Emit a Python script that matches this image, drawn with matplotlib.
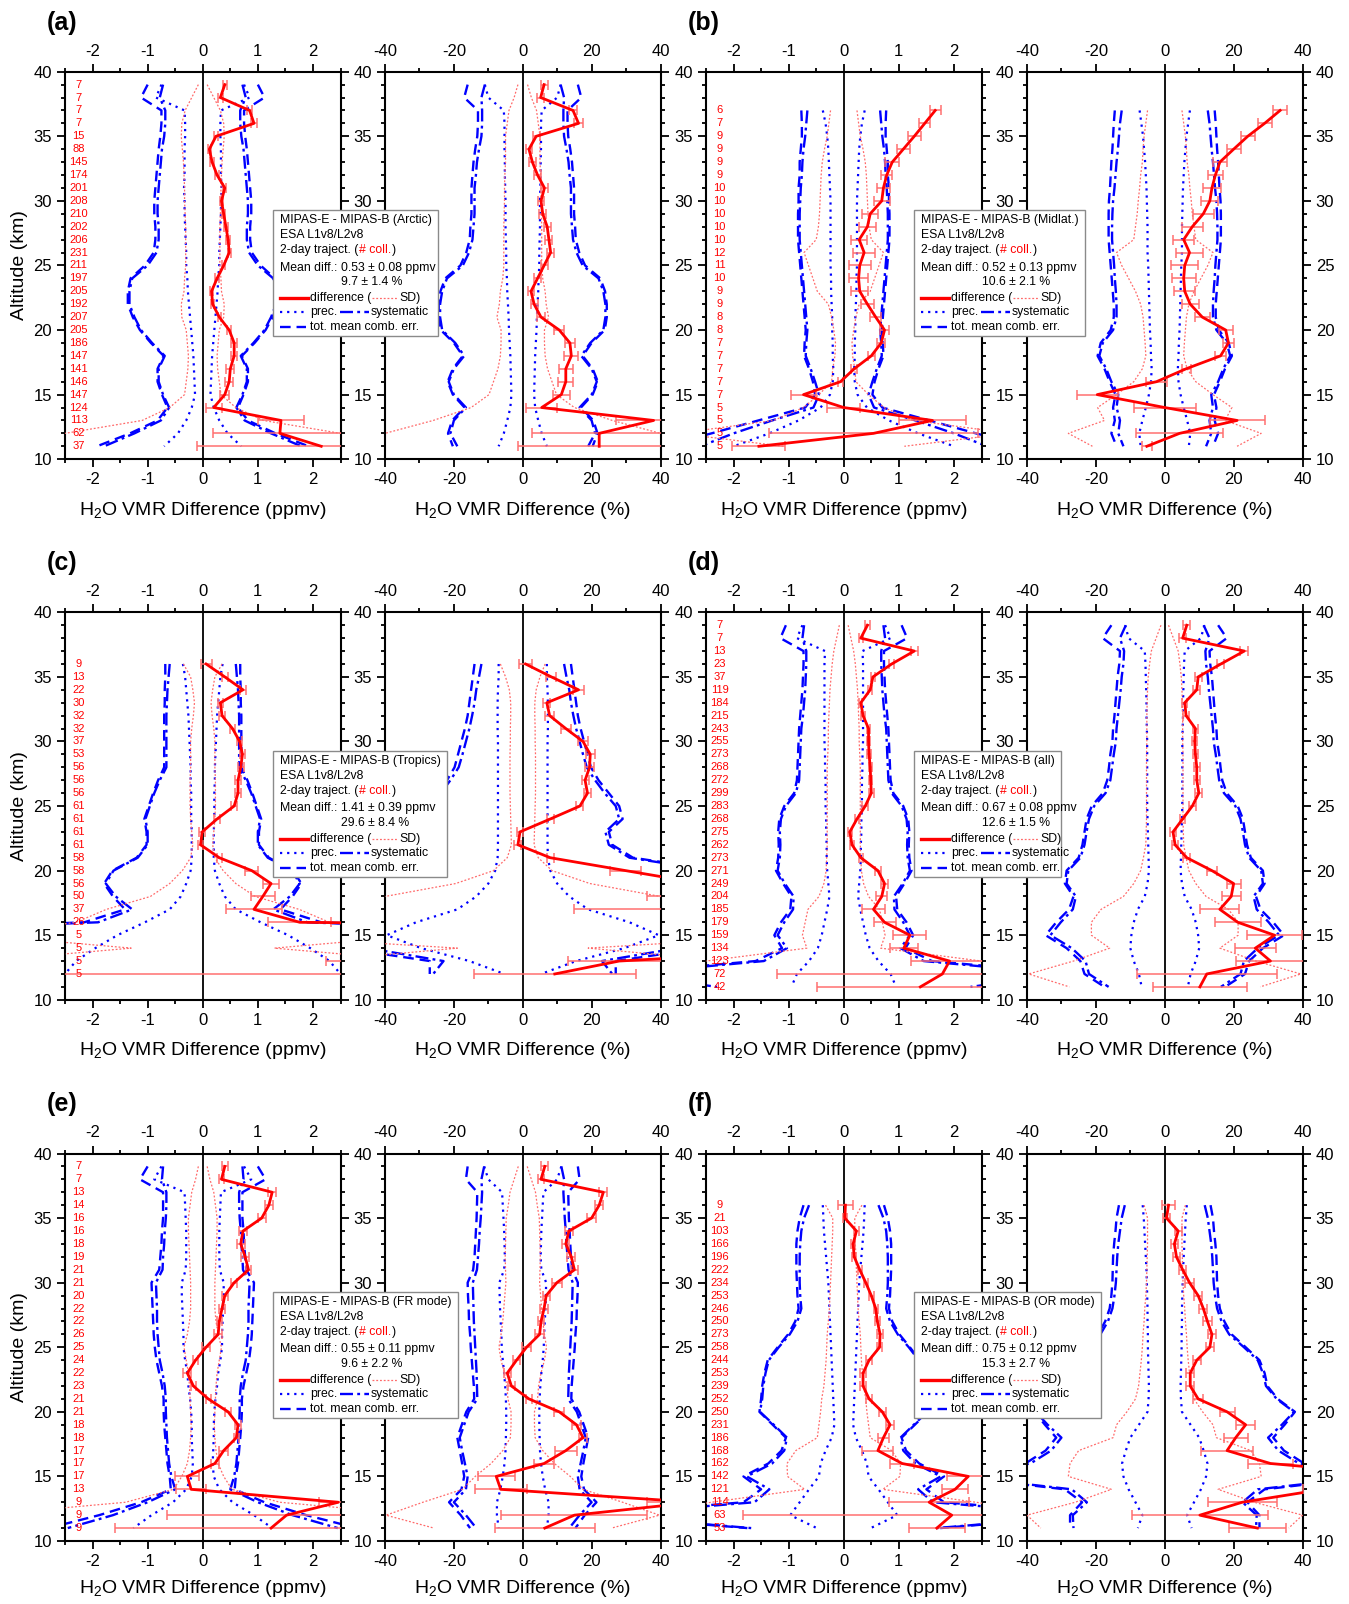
import numpy as np
import matplotlib
matplotlib.use("Agg")
import matplotlib.pyplot as plt
from matplotlib.patches import Rectangle
from matplotlib.lines import Line2D
from matplotlib.ticker import MultipleLocator, FuncFormatter

plt.rcParams['font.family'] = ['Liberation Sans', 'DejaVu Sans']
plt.rcParams['mathtext.fontset'] = 'custom'
plt.rcParams['mathtext.rm'] = 'Liberation Sans'
plt.rcParams['mathtext.it'] = 'Liberation Sans:italic'
plt.rcParams['axes.unicode_minus'] = False

# altitude labels of the % panels that are not hidden by the legend box
pct_alt_labels = [10, 15, 30, 35, 40]

# ---------------- (a) Arctic ----------------
a_alt = np.arange(39, 10, -1)
a_n = [7, 7, 7, 7, 15, 88, 145, 174, 201, 208, 210, 202, 206, 231, 211, 197, 205, 192, 207, 205, 186, 147, 141, 146, 147, 124, 113, 62, 37]
a_diff_ppmv = [0.40, 0.32, 0.85, 0.93, 0.24, 0.12, 0.17, 0.26, 0.40, 0.34, 0.38, 0.42, 0.46, 0.48, 0.38, 0.26, 0.16, 0.18, 0.30, 0.48, 0.57, 0.57, 0.50, 0.48, 0.40, 0.20, 1.42, 1.40, 2.15]
a_err_ppmv = [0.04, 0.04, 0.05, 0.05, 0.04, 0.03, 0.03, 0.03, 0.03, 0.03, 0.03, 0.03, 0.03, 0.03, 0.03, 0.03, 0.03, 0.03, 0.03, 0.04, 0.05, 0.06, 0.07, 0.07, 0.08, 0.15, 0.41, 1.22, 2.25]
a_sd_ppmv = [0.08, 0.2, 0.32, 0.38, 0.39, 0.37, 0.35, 0.34, 0.33, 0.33, 0.32, 0.31, 0.31, 0.31, 0.31, 0.33, 0.34, 0.39, 0.38, 0.3, 0.28, 0.26, 0.27, 0.3, 0.33, 0.6, 1.1, 2.5, 4.0]
a_prec_ppmv = [0.75, 0.85, 0.33, 0.32, 0.32, 0.33, 0.33, 0.33, 0.34, 0.33, 0.33, 0.32, 0.31, 0.3, 0.3, 0.28, 0.27, 0.25, 0.23, 0.21, 0.19, 0.17, 0.16, 0.15, 0.14, 0.2, 0.3, 0.45, 0.7]
a_sys_ppmv = [0.72, 0.78, 0.68, 0.68, 0.7, 0.74, 0.76, 0.78, 0.8, 0.82, 0.82, 0.8, 0.8, 0.84, 1.0, 1.28, 1.33, 1.33, 1.24, 1.12, 0.92, 0.69, 0.8, 0.8, 0.72, 0.61, 0.76, 1.24, 1.79]
a_tot_ppmv = [1.0, 1.12, 0.75, 0.75, 0.77, 0.8, 0.82, 0.84, 0.86, 0.88, 0.88, 0.86, 0.86, 0.89, 1.05, 1.31, 1.36, 1.36, 1.27, 1.14, 0.94, 0.71, 0.82, 0.82, 0.74, 0.64, 0.82, 1.32, 1.92]
a_diff_pct = [6.2, 5.2, 14.6, 16.2, 3.9, 1.8, 2.8, 4.3, 6.3, 5.3, 5.8, 7.1, 7.6, 8.1, 6.2, 4.3, 2.4, 3.3, 5.3, 10.6, 13.7, 14.1, 12.5, 12.5, 11.2, 5.5, 38, 22.2, 22.2]
a_err_pct = [1, 1, 1.2, 1.3, 1, 1, 1, 1, 1, 1, 1, 1, 1, 1, 1, 1, 1, 1, 1.2, 1.5, 1.5, 2, 2, 2.2, 2.5, 4.5, 11, 19.5, 23.5]
a_sd_pct = [1.4, 2.5, 4, 4.5, 5, 5, 5, 5.2, 5.3, 5.3, 5.4, 5.5, 5.5, 5.5, 5.5, 5.8, 6.5, 6.8, 7.5, 6.3, 6.3, 6.5, 7.2, 8.5, 9.8, 15, 26, 40, 55]
a_prec_pct = [11, 10, 5.5, 5.3, 5.3, 5.3, 5.2, 5.2, 5.1, 5, 5, 5, 4.9, 4.8, 4.8, 4.6, 4.5, 4.3, 4.1, 4, 3.8, 3.6, 3.5, 3.4, 3.3, 3.6, 4.5, 5.5, 7]
a_sys_pct = [11, 12, 11.8, 11.8, 12, 12.7, 13.3, 13.6, 14, 14, 14, 14.3, 14.6, 15.6, 17.4, 22, 23.4, 24, 24, 23.4, 19.6, 17, 20, 21.5, 20, 16.5, 20, 21, 19]
a_tot_pct = [16, 17, 13, 13, 13.2, 13.8, 14.3, 14.6, 14.9, 14.9, 14.9, 15.2, 15.4, 16.4, 18.1, 22.5, 23.9, 24.4, 24.4, 23.8, 20, 17.4, 20.3, 21.8, 20.3, 16.9, 20.5, 21.7, 20.3]

# ---------------- (b) Midlat. ----------------
b_alt = np.arange(37, 10, -1)
b_n = [6, 7, 9, 9, 9, 9, 10, 10, 10, 10, 10, 12, 11, 10, 9, 9, 8, 8, 7, 7, 7, 7, 7, 5, 5, 5, 5]
b_diff_ppmv = [1.66, 1.47, 1.28, 1.08, 0.88, 0.78, 0.72, 0.69, 0.48, 0.43, 0.28, 0.37, 0.29, 0.27, 0.29, 0.43, 0.58, 0.74, 0.68, 0.5, 0.19, -0.06, -0.73, 0.0, 1.61, 0.54, -1.54]
b_err_ppmv = [0.1, 0.1, 0.12, 0.12, 0.13, 0.1, 0.12, 0.15, 0.15, 0.15, 0.15, 0.2, 0.2, 0.17, 0.15, 0.12, 0.1, 0.08, 0.07, 0.06, 0.05, 0.05, 0.22, 0.3, 0.6, 1.89, 0.48]
b_sd_ppmv = [0.24, 0.27, 0.3, 0.35, 0.39, 0.41, 0.42, 0.43, 0.44, 0.46, 0.5, 0.72, 0.64, 0.56, 0.48, 0.28, 0.22, 0.18, 0.15, 0.16, 0.2, 0.22, 0.45, 0.73, 1.27, 3.0, 1.1]
b_prec_ppmv = [0.38, 0.33, 0.3, 0.28, 0.27, 0.26, 0.25, 0.24, 0.24, 0.24, 0.24, 0.24, 0.24, 0.23, 0.23, 0.22, 0.21, 0.21, 0.2, 0.2, 0.19, 0.2, 0.25, 0.42, 0.82, 1.35, 2.0]
b_sys_ppmv = [0.66, 0.68, 0.7, 0.73, 0.75, 0.76, 0.78, 0.79, 0.8, 0.8, 0.8, 0.78, 0.76, 0.74, 0.72, 0.7, 0.68, 0.66, 0.68, 0.69, 0.6, 0.52, 0.45, 0.55, 1.3, 2.0, 2.6]
b_tot_ppmv = [0.77, 0.76, 0.76, 0.78, 0.8, 0.8, 0.82, 0.82, 0.83, 0.83, 0.83, 0.81, 0.79, 0.77, 0.75, 0.73, 0.71, 0.69, 0.71, 0.72, 0.63, 0.56, 0.52, 0.7, 1.55, 2.4, 3.3]
b_diff_pct = [33.5, 29, 24.1, 20, 16, 14.7, 13.7, 13.1, 11.2, 8, 5.5, 7.2, 5.8, 5.5, 5.8, 7.4, 10.9, 17.7, 18.5, 16.2, 6.2, -2.4, -19.6, 0, 21, 4.3, -5.2]
b_err_pct = [2, 2, 2, 2, 2, 2.2, 2.5, 2.5, 3, 3, 3, 4, 4, 3.5, 3, 2.5, 2.2, 2, 1.5, 1.5, 1.3, 3, 6, 9, 8, 12.7, 1.5]
b_sd_pct = [5, 5.5, 6, 6.3, 6.5, 7, 7.3, 7.7, 8, 8.5, 9, 14, 12.5, 10.5, 8.5, 7, 6.3, 6, 5.7, 5.5, 6.5, 9, 14, 19.5, 17.5, 28, 21]
b_prec_pct = [7.3, 6.8, 6.3, 6, 5.7, 5.5, 5.3, 5.2, 5.1, 5, 5, 5, 4.8, 4.7, 4.6, 4.5, 4.4, 4.3, 4.1, 4, 3.8, 4, 4.6, 5.5, 6.5, 7.4, 7]
b_sys_pct = [12.5, 13, 13.3, 13.6, 14, 14.3, 14.6, 15, 15.2, 15.3, 15.3, 15, 14.7, 14.5, 14.2, 14, 14, 15, 18, 19, 17, 15.5, 13.5, 14, 13, 13.5, 12]
b_tot_pct = [14.5, 14.8, 15, 15.2, 15.5, 15.7, 15.9, 16.2, 16.3, 16.3, 16.3, 16, 15.7, 15.4, 15.1, 14.8, 14.8, 15.7, 18.6, 19.5, 17.5, 16, 14.3, 15, 14.5, 15.5, 14]

# ---------------- (c) Tropics ----------------
c_alt = np.arange(36, 11, -1)
c_n = [9, 13, 22, 30, 32, 32, 37, 53, 56, 56, 56, 61, 61, 61, 61, 58, 58, 56, 50, 37, 26, 5, 5, 5, 5]
c_diff_ppmv = [0.06, 0.4, 0.73, 0.32, 0.35, 0.54, 0.67, 0.72, 0.69, 0.64, 0.64, 0.57, 0.26, -0.01, -0.04, 0.3, 0.89, 1.24, 1.09, 0.93, 1.76, 25, 30, 5, 6]
c_err_ppmv = [0.1, 0.05, 0.05, 0.05, 0.05, 0.05, 0.05, 0.05, 0.05, 0.05, 0.05, 0.05, 0.05, 0.05, 0.05, 0.05, 0.12, 0.14, 0.22, 0.5, 0.57, 1, 1, 2.77, 9]
c_sd_ppmv = [0.35, 0.22, 0.18, 0.15, 0.17, 0.2, 0.22, 0.22, 0.22, 0.23, 0.23, 0.23, 0.22, 0.2, 0.18, 0.22, 0.37, 0.6, 0.95, 1.75, 2.3, 4, 1.3, 4, 4]
c_prec_ppmv = [0.36, 0.32, 0.3, 0.28, 0.26, 0.25, 0.24, 0.23, 0.22, 0.22, 0.21, 0.21, 0.21, 0.2, 0.2, 0.2, 0.22, 0.3, 0.4, 0.6, 1.05, 1.55, 1.95, 2.3, 2.5]
c_sys_ppmv = [0.6, 0.62, 0.64, 0.65, 0.66, 0.66, 0.66, 0.66, 0.66, 0.78, 0.88, 0.96, 1.04, 1.0, 1.0, 1.18, 1.62, 1.76, 1.58, 1.28, 1.9, 8, 5, 5, 5]
c_tot_ppmv = [0.68, 0.68, 0.69, 0.69, 0.7, 0.7, 0.7, 0.7, 0.7, 0.81, 0.9, 0.98, 1.06, 1.02, 1.02, 1.2, 1.64, 1.79, 1.63, 1.41, 2.15, 8.2, 5.4, 5.5, 5.6]
c_diff_pct = [0.8, 8.3, 16.2, 7, 7.8, 12.5, 17.5, 19.6, 19.4, 18.1, 18.8, 16.6, 8, -0.8, -1.4, 8, 29.9, 52, 55, 50, 80, 90, 95, 28, 9.3]
c_err_pct = [2, 1.5, 1.5, 1, 1.2, 1.5, 1.5, 1.3, 1.3, 1, 1, 1, 1, 1, 1, 1, 4.5, 8, 19, 35, 20, 20, 20, 15, 23.6]
c_sd_pct = [6.5, 5, 3.9, 3.5, 3.5, 3.6, 3.6, 3.7, 3.7, 3.7, 3.7, 3.6, 3.5, 3.4, 3.3, 4.5, 8.5, 19.5, 40, 70, 80, 80, 19, 60, 40]
c_prec_pct = [7, 7, 7.2, 7.3, 7.3, 7.3, 7.2, 7.2, 7.2, 7.2, 7.2, 7.2, 7.2, 7.2, 7.2, 7.3, 8, 10, 13.5, 19, 31, 39.5, 29.5, 15.5, 5.3]
c_sys_pct = [12, 12.7, 13.5, 14, 14.7, 15.5, 16.5, 17.5, 18.6, 21, 23.8, 27, 28, 24, 25, 31, 55, 60, 58, 50, 60, 70, 45, 23, 26]
c_tot_pct = [14, 14.5, 15, 15.5, 16, 16.8, 17.8, 18.8, 19.8, 22, 25, 28, 29, 25, 26, 32, 57, 62, 60, 53, 67, 80, 52, 27, 27]

# ---------------- (d) all ----------------
d_alt = np.arange(39, 10, -1)
d_n = [7, 7, 13, 23, 37, 119, 184, 215, 243, 255, 273, 268, 272, 299, 283, 268, 275, 262, 273, 271, 249, 204, 185, 179, 159, 134, 123, 72, 42]
d_diff_ppmv = [0.43, 0.31, 1.28, 0.87, 0.53, 0.48, 0.31, 0.35, 0.45, 0.45, 0.46, 0.48, 0.49, 0.5, 0.39, 0.24, 0.11, 0.15, 0.31, 0.62, 0.74, 0.69, 0.54, 0.74, 1.2, 1.09, 1.92, 1.79, 1.39]
d_err_ppmv = [0.04, 0.04, 0.06, 0.05, 0.04, 0.04, 0.03, 0.03, 0.03, 0.03, 0.03, 0.03, 0.03, 0.04, 0.05, 0.04, 0.04, 0.04, 0.04, 0.05, 0.06, 0.1, 0.2, 0.2, 0.3, 0.25, 0.7, 3.0, 1.87]
d_sd_ppmv = [0.08, 0.13, 0.18, 0.21, 0.23, 0.25, 0.26, 0.27, 0.28, 0.28, 0.29, 0.3, 0.3, 0.3, 0.3, 0.3, 0.3, 0.3, 0.31, 0.32, 0.36, 0.45, 0.65, 0.7, 0.75, 0.67, 2.5, 4, 4]
d_prec_ppmv = [0.75, 0.85, 0.34, 0.35, 0.35, 0.35, 0.35, 0.35, 0.35, 0.35, 0.34, 0.34, 0.33, 0.33, 0.33, 0.32, 0.32, 0.31, 0.31, 0.3, 0.28, 0.26, 0.3, 0.35, 0.4, 0.47, 0.63, 0.85, 0.95]
d_sys_ppmv = [0.72, 0.75, 0.68, 0.68, 0.69, 0.7, 0.72, 0.74, 0.77, 0.78, 0.79, 0.8, 0.81, 0.87, 1.05, 1.14, 1.16, 1.15, 1.16, 1.2, 1.07, 0.91, 0.92, 1.08, 1.2, 1.03, 1.45, 4.0, 2.3]
d_tot_ppmv = [1.05, 1.15, 0.73, 0.73, 0.74, 0.75, 0.77, 0.79, 0.81, 0.82, 0.83, 0.84, 0.85, 0.9, 1.08, 1.17, 1.19, 1.18, 1.19, 1.23, 1.1, 0.95, 0.97, 1.14, 1.26, 1.12, 1.6, 4.2, 2.5]
d_diff_pct = [6.4, 5.2, 23.1, 16.3, 9.7, 9.3, 5.8, 6.2, 8.9, 8.7, 8.9, 9.3, 9.3, 9.9, 8, 5.2, 2.4, 3, 6.4, 13.7, 20, 19.3, 16, 21.2, 31.9, 26.3, 30.7, 12.2, 10.2]
d_err_pct = [1, 1, 1.2, 1, 1, 1, 0.8, 0.8, 0.8, 0.8, 0.8, 0.8, 0.8, 1, 1, 0.8, 0.8, 0.8, 1, 1.5, 2, 2.7, 5.7, 6.7, 8, 6, 10, 20.3, 13.6]
d_sd_pct = [1.1, 2.5, 3.9, 4.4, 4.8, 5, 5.1, 5.2, 5.2, 5.2, 5.3, 5.3, 5.3, 5.3, 5.3, 5.3, 5.4, 5.5, 6.2, 7, 9, 12, 18.5, 21.3, 21.3, 16, 26.5, 39.5, 27.7]
d_prec_pct = [11.5, 10.5, 5.8, 5.6, 5.5, 5.4, 5.3, 5.3, 5.2, 5.1, 5.1, 5.1, 5.1, 5.1, 5.1, 5, 4.9, 4.8, 4.7, 4.6, 5, 5.8, 7.8, 9, 9.7, 10, 9, 7.5, 6.7]
d_sys_pct = [11.3, 13, 11.8, 12, 12.5, 12.8, 13.2, 13.6, 14, 14.2, 14.8, 15.3, 15.8, 17.2, 20.5, 22, 22.7, 23.3, 24.5, 28, 28.5, 25.8, 26.7, 30.2, 33.2, 27, 23, 22, 16.3]
d_tot_pct = [15.5, 18, 13, 13.2, 13.7, 14, 14.3, 14.6, 15, 15.2, 15.8, 16.2, 16.7, 18, 21.2, 22.7, 23.3, 23.9, 25, 28.5, 29, 26.5, 27.8, 31.5, 34.6, 28.5, 24.5, 23.3, 17.5]

# ---------------- (e) FR mode ----------------
e_alt = np.arange(39, 10, -1)
e_n = [7, 7, 13, 14, 16, 16, 18, 19, 21, 21, 20, 22, 22, 26, 25, 24, 22, 23, 21, 21, 18, 18, 17, 17, 17, 13, 9, 9, 9]
e_diff_ppmv = [0.4, 0.34, 1.26, 1.2, 1.07, 0.73, 0.69, 0.77, 0.83, 0.57, 0.4, 0.35, 0.3, 0.28, 0.06, -0.13, -0.28, -0.17, 0.1, 0.46, 0.64, 0.61, 0.38, 0.22, -0.28, -0.21, 2.46, 1.52, 1.24]
e_err_ppmv = [0.05, 0.05, 0.07, 0.07, 0.07, 0.07, 0.07, 0.07, 0.05, 0.05, 0.05, 0.05, 0.05, 0.07, 0.07, 0.05, 0.07, 0.05, 0.05, 0.05, 0.05, 0.05, 0.08, 0.07, 0.22, 0.27, 0.35, 2.17, 2.83]
e_sd_ppmv = [0.08, 0.13, 0.2, 0.23, 0.26, 0.26, 0.25, 0.24, 0.23, 0.22, 0.22, 0.22, 0.24, 0.28, 0.34, 0.3, 0.26, 0.24, 0.23, 0.22, 0.21, 0.22, 0.24, 0.28, 0.38, 0.53, 1.4, 4, 4]
e_prec_ppmv = [0.75, 0.88, 0.33, 0.32, 0.31, 0.3, 0.3, 0.3, 0.31, 0.38, 0.38, 0.37, 0.36, 0.35, 0.35, 0.32, 0.28, 0.26, 0.23, 0.21, 0.2, 0.2, 0.19, 0.18, 0.2, 0.3, 0.54, 0.93, 1.26]
e_sys_ppmv = [0.72, 0.74, 0.66, 0.66, 0.67, 0.69, 0.7, 0.72, 0.73, 0.85, 0.84, 0.83, 0.83, 0.82, 0.8, 0.78, 0.73, 0.69, 0.67, 0.67, 0.66, 0.65, 0.63, 0.61, 0.57, 0.5, 1.0, 1.63, 2.45]
e_tot_ppmv = [1.0, 1.14, 0.72, 0.72, 0.72, 0.74, 0.75, 0.77, 0.79, 0.93, 0.92, 0.91, 0.9, 0.89, 0.87, 0.84, 0.79, 0.74, 0.71, 0.71, 0.7, 0.68, 0.66, 0.64, 0.6, 0.58, 1.12, 1.88, 2.8]
e_diff_pct = [6.4, 5.3, 23.4, 22.2, 20, 13.4, 12.5, 14.1, 15, 9.9, 6.8, 6.2, 5.3, 4.9, 1.1, -1.8, -4.5, -3.3, 1.8, 10.6, 15.6, 17.5, 12.5, 6.2, -7.7, -6.4, 50, 15, 6.4]
e_err_pct = [1, 1, 1.2, 1.2, 1.3, 1.2, 1, 1.2, 1, 1.5, 1, 1.2, 1, 1.2, 1.2, 1, 1, 1, 1, 1.5, 1.2, 1.2, 3.2, 3, 5.4, 7.5, 14, 21.2, 14.5]
e_sd_pct = [1.3, 2.5, 3.7, 4.2, 4.8, 4.9, 5, 5.1, 5, 4.9, 5.2, 5.5, 5.8, 6.3, 6.9, 6.3, 5.3, 4.6, 4.3, 3.4, 3.4, 3.6, 5.8, 9.2, 13.8, 17.5, 29, 39.7, 25.8]
e_prec_pct = [11.2, 10, 6, 5.8, 5.6, 5.4, 5.3, 5.2, 5.4, 6.8, 6.7, 6.6, 6.4, 6.2, 6.1, 5.8, 5.4, 5.1, 4.9, 4.8, 4.8, 4.9, 5, 5.3, 5.8, 6.5, 7.5, 7.5, 7]
e_sys_pct = [11.2, 12, 11.8, 12, 12.2, 12.5, 12.7, 13, 13.3, 14.5, 14.4, 14.3, 14.2, 14, 13.8, 13.6, 13.4, 13.3, 13.2, 15.7, 17, 18.3, 17.6, 16.8, 16, 16.5, 20, 16.5, 13.5]
e_tot_pct = [16, 16.5, 13.2, 13.3, 13.4, 13.6, 13.8, 14, 14.4, 16, 15.9, 15.7, 15.6, 15.3, 15.1, 14.8, 14.5, 14.2, 14.1, 16.4, 17.7, 19, 18.3, 17.6, 17, 17.8, 21.4, 18, 15.3]

# ---------------- (f) OR mode ----------------
f_alt = np.arange(36, 10, -1)
f_n = [9, 21, 103, 166, 196, 222, 234, 253, 246, 250, 273, 258, 244, 253, 239, 252, 250, 231, 186, 168, 162, 142, 121, 114, 63, 53]
f_diff_ppmv = [0.03, 0.02, 0.23, 0.17, 0.19, 0.29, 0.4, 0.5, 0.58, 0.61, 0.66, 0.65, 0.46, 0.35, 0.35, 0.46, 0.7, 0.84, 0.72, 0.62, 1.06, 2.26, 2.02, 1.55, 1.96, 1.69]
f_err_ppmv = [0.13, 0.04, 0.04, 0.04, 0.04, 0.04, 0.04, 0.04, 0.04, 0.04, 0.05, 0.05, 0.05, 0.05, 0.05, 0.05, 0.06, 0.07, 0.1, 0.28, 0.22, 0.38, 0.24, 0.73, 3.78, 0.51]
f_sd_ppmv = [0.33, 0.2, 0.2, 0.21, 0.22, 0.23, 0.24, 0.25, 0.26, 0.28, 0.3, 0.31, 0.32, 0.34, 0.36, 0.4, 0.42, 0.45, 0.48, 0.87, 1.03, 1.02, 0.71, 2.4, 4, 4]
f_prec_ppmv = [0.38, 0.37, 0.36, 0.34, 0.32, 0.3, 0.28, 0.27, 0.26, 0.25, 0.24, 0.23, 0.22, 0.21, 0.2, 0.19, 0.18, 0.17, 0.22, 0.33, 0.42, 0.45, 0.63, 0.8, 0.97, 0.49]
f_sys_ppmv = [0.63, 0.72, 0.77, 0.79, 0.8, 0.8, 0.8, 0.79, 0.77, 0.84, 0.98, 1.18, 1.36, 1.42, 1.46, 1.48, 1.52, 1.27, 1.03, 1.08, 1.3, 1.76, 1.35, 1.62, 4.5, 1.68]
f_tot_ppmv = [0.73, 0.8, 0.84, 0.86, 0.86, 0.86, 0.85, 0.84, 0.82, 0.88, 1.01, 1.2, 1.38, 1.44, 1.48, 1.5, 1.53, 1.29, 1.05, 1.13, 1.37, 1.82, 1.5, 1.82, 4.6, 1.75]
f_diff_pct = [1.1, 0.5, 3.9, 2.8, 3.4, 5.2, 7.2, 9.7, 11.2, 12.4, 13.7, 13.1, 9.3, 7.4, 7.4, 9.7, 18.1, 23.5, 20.6, 18.1, 30.7, 73, 46, 22.5, 10.2, 26.9]
f_err_pct = [2, 1, 1, 1, 1, 1, 1.2, 1.2, 1.2, 1.2, 1.2, 1.2, 1.2, 1.2, 1.2, 1.5, 2.2, 2.8, 3.5, 7.5, 6.6, 8, 6, 10, 19.8, 8.2]
f_sd_pct = [6, 5, 5, 5, 5.1, 5.2, 5.3, 5.5, 5.8, 6, 6.3, 6.5, 6.8, 7.2, 7.6, 8.5, 11, 14, 15, 25, 27.5, 28, 15.5, 26, 40, 36]
f_prec_pct = [6.4, 6.1, 5.9, 5.7, 5.5, 5.3, 5.2, 5.1, 5, 5, 4.9, 4.9, 4.8, 4.7, 4.6, 4.7, 5, 7.5, 10, 11.3, 12.4, 12, 10.5, 8.5, 6.5, 7.8]
f_sys_pct = [11.6, 12.5, 13, 13.5, 13.8, 14, 14.2, 14.6, 15.2, 16.5, 18.7, 23, 27, 28.5, 29.4, 32.5, 37.5, 34, 30, 33, 39, 60, 27, 22.6, 26.7, 26.5]
f_tot_pct = [13.3, 14, 14.3, 14.7, 15, 15.1, 15.2, 15.5, 16, 17.3, 19.4, 23.5, 27.5, 29, 29.8, 32.8, 37.8, 34.8, 31.5, 34.6, 40.5, 61, 29, 24, 27.5, 27.5]

panels = [
    dict(letter='(a)', col=0, row=0, alt=a_alt, n=a_n, title='Arctic', mp='0.53 ± 0.08', mq='9.7 ± 1.4',
         ppmv=(a_diff_ppmv, a_err_ppmv, a_sd_ppmv, a_prec_ppmv, a_sys_ppmv, a_tot_ppmv),
         pct=(a_diff_pct, a_err_pct, a_sd_pct, a_prec_pct, a_sys_pct, a_tot_pct)),
    dict(letter='(b)', col=1, row=0, alt=b_alt, n=b_n, title='Midlat.', mp='0.52 ± 0.13', mq='10.6 ± 2.1',
         ppmv=(b_diff_ppmv, b_err_ppmv, b_sd_ppmv, b_prec_ppmv, b_sys_ppmv, b_tot_ppmv),
         pct=(b_diff_pct, b_err_pct, b_sd_pct, b_prec_pct, b_sys_pct, b_tot_pct)),
    dict(letter='(c)', col=0, row=1, alt=c_alt, n=c_n, title='Tropics', mp='1.41 ± 0.39', mq='29.6 ± 8.4',
         ppmv=(c_diff_ppmv, c_err_ppmv, c_sd_ppmv, c_prec_ppmv, c_sys_ppmv, c_tot_ppmv),
         pct=(c_diff_pct, c_err_pct, c_sd_pct, c_prec_pct, c_sys_pct, c_tot_pct)),
    dict(letter='(d)', col=1, row=1, alt=d_alt, n=d_n, title='all', mp='0.67 ± 0.08', mq='12.6 ± 1.5',
         ppmv=(d_diff_ppmv, d_err_ppmv, d_sd_ppmv, d_prec_ppmv, d_sys_ppmv, d_tot_ppmv),
         pct=(d_diff_pct, d_err_pct, d_sd_pct, d_prec_pct, d_sys_pct, d_tot_pct)),
    dict(letter='(e)', col=0, row=2, alt=e_alt, n=e_n, title='FR mode', mp='0.55 ± 0.11', mq='9.6 ± 2.2',
         ppmv=(e_diff_ppmv, e_err_ppmv, e_sd_ppmv, e_prec_ppmv, e_sys_ppmv, e_tot_ppmv),
         pct=(e_diff_pct, e_err_pct, e_sd_pct, e_prec_pct, e_sys_pct, e_tot_pct)),
    dict(letter='(f)', col=1, row=2, alt=f_alt, n=f_n, title='OR mode', mp='0.75 ± 0.12', mq='15.3 ± 2.7',
         ppmv=(f_diff_ppmv, f_err_ppmv, f_sd_ppmv, f_prec_ppmv, f_sys_ppmv, f_tot_ppmv),
         pct=(f_diff_pct, f_err_pct, f_sd_pct, f_prec_pct, f_sys_pct, f_tot_pct)),
]

RED = '#ff0000'
BLUE = '#0000ff'
SD_COL = '#ff6a6a'
ERR_COL = '#ff7070'
DOT = (0, (1, 2.2))
DASHDOT = (0, (5.5, 1.8, 1.2, 1.8))
DASH = (0, (4.5, 2.5))

W, H = 1349, 1604
fig = plt.figure(figsize=(W / 100, H / 100), dpi=100)
renderer = fig.canvas.get_renderer()

col_x = [(65, 385), (706, 1027)]
row_top = [71.7, 612.3, 1153.5]
AX_W, AX_H = 275.5, 387.5


def fx(x):
    return x / W


def fy(y):
    return 1 - y / H


def add_ax(x, top):
    return fig.add_axes([fx(x), fy(top + AX_H), AX_W / W, AX_H / H])


def style(ax, xlim, major, minor, labelleft, labelright, xlabel, labelpad):
    ax.set_xlim(*xlim)
    ax.set_ylim(10, 40)
    ax.xaxis.set_major_locator(MultipleLocator(major))
    ax.xaxis.set_minor_locator(MultipleLocator(minor))
    ax.yaxis.set_major_locator(MultipleLocator(5))
    ax.yaxis.set_minor_locator(MultipleLocator(1))
    ax.tick_params(which='both', direction='out', top=True, bottom=True, left=True, right=True,
                   labeltop=True, labelbottom=True, labelleft=labelleft, labelright=labelright,
                   labelsize=12, width=1.3, pad=4)
    ax.tick_params(which='major', length=5.5)
    ax.tick_params(which='minor', length=3)
    for s in ax.spines.values():
        s.set_linewidth(1.5)
    ax.set_xlabel(xlabel, fontsize=14, labelpad=labelpad)


def profile(ax, alt, vals, cap):
    diff, err, sd, prec, sys_, tot = [np.asarray(v, float) for v in vals]
    ax.axvline(0, color='black', lw=1.3, zorder=1)
    for s in (1, -1):
        ax.plot(s * tot, alt, color=BLUE, ls=DASH, lw=1.7, zorder=2)
        ax.plot(s * sys_, alt, color=BLUE, ls=DASHDOT, lw=1.7, zorder=2)
        ax.plot(s * prec, alt, color=BLUE, ls=DOT, lw=1.6, zorder=2)
        ax.plot(s * sd, alt, color=SD_COL, ls=(0, (1.5, 1.5)), lw=0.9, zorder=3)
    ax.errorbar(diff, alt, xerr=err, fmt='none', ecolor=ERR_COL, elinewidth=1.1,
                capsize=cap, capthick=1.1, zorder=4)
    ax.plot(diff, alt, color=RED, lw=2.0, zorder=5)


def draw_box(ax, p):
    pos = ax.get_position()
    left = pos.x0 * W + 208
    top = (1 - pos.y1) * H + 138.5
    rows = [10, 24.7, 39.9, 57.4, 72, 87.9, 102.1, 117]
    fs = 8.8

    def txt(x, y, s, color='black'):
        return fig.text(fx(x), fy(y), s, fontsize=fs, color=color, ha='left', va='center', zorder=12)

    def wid(t):
        return t.get_window_extent(renderer).width

    def sample(x0, x1, y, **kw):
        fig.add_artist(Line2D([fx(x0), fx(x1)], [fy(y), fy(y)], transform=fig.transFigure,
                              zorder=12, **kw))

    tx = left + 6.5
    t = txt(tx, top + rows[0], 'MIPAS-E - MIPAS-B (' + p['title'] + ')')
    bw = wid(t) + 13
    fig.add_artist(Rectangle((fx(left), fy(top + 126)), bw / W, 126 / H, transform=fig.transFigure,
                             facecolor='white', edgecolor='#8a8a8a', lw=1.0, zorder=11))
    txt(tx, top + rows[1], 'ESA L1v8/L2v8')
    # black / red / black pieces of one line
    t = txt(tx, top + rows[2], '2-day traject. (')
    x = tx + wid(t) + 1
    t = txt(x, top + rows[2], '# coll.', RED)
    txt(x + wid(t) + 1, top + rows[2], ')')
    t = txt(tx, top + rows[3], 'Mean diff.:')
    x = tx + wid(t) + 4
    txt(x, top + rows[3], p['mp'] + ' ppmv')
    txt(x, top + rows[4], p['mq'] + ' %')
    # difference / SD row
    y = top + rows[5]
    sample(tx, tx + 28, y, color=RED, lw=2.4)
    t = txt(tx + 30.5, y, 'difference (')
    x = tx + 30.5 + wid(t)
    sample(x + 1, x + 27, y, color=SD_COL, lw=0.9, ls=(0, (1.5, 1.5)))
    txt(x + 28, y, 'SD)')
    # prec / systematic row
    y = top + rows[6]
    sample(tx, tx + 26, y, color=BLUE, lw=1.6, ls=DOT)
    t = txt(tx + 30.5, y, 'prec.')
    x = tx + 30.5 + wid(t)
    sample(x + 3, x + 32, y, color=BLUE, lw=1.7, ls=DASHDOT)
    txt(x + 33, y, 'systematic')
    # total row
    y = top + rows[7]
    sample(tx, tx + 26, y, color=BLUE, lw=1.7, ls=DASH)
    txt(tx + 30.5, y, 'tot. mean comb. err.')


# the % panel's altitude labels 20 and 25 lie under the legend box, so leave them blank
pct_ylabels = FuncFormatter(lambda v, pos: '%d' % v if v in pct_alt_labels else '')

for p in panels:
    xp, xq = col_x[p['col']]
    top = row_top[p['row']]
    lp = 6.5 if p['row'] == 2 else 9
    ax1 = add_ax(xp, top)
    ax2 = add_ax(xq, top)
    style(ax1, (-2.5, 2.5), 1, 0.5, True, False, 'H$_2$O VMR Difference (ppmv)', lp)
    style(ax2, (-40, 40), 20, 10, p['col'] == 0, p['col'] == 1, 'H$_2$O VMR Difference (%)', lp)
    profile(ax1, p['alt'], p['ppmv'], 3.5)
    profile(ax2, p['alt'], p['pct'], 3.5)
    for a, n in zip(p['alt'], p['n']):
        ax1.text(-2.25, a, str(n), color=RED, fontsize=8, ha='center', va='center', zorder=6)
    if p['col'] == 0:
        ax1.set_ylabel('Altitude (km)', fontsize=14, labelpad=4)
        ax2.yaxis.set_major_formatter(pct_ylabels)
    else:
        # right column keeps every label on the right; the left side only shows the uncovered ones
        for v in pct_alt_labels:
            ax2.annotate(str(v), xy=(0, v), xycoords=ax2.get_yaxis_transform(),
                         xytext=(-9.5, 0), textcoords='offset points',
                         ha='right', va='center_baseline', fontsize=12)
    fig.text(fx(xp - 18), fy(top - 49), p['letter'], fontsize=18, fontweight='bold',
             ha='left', va='center')
    draw_box(ax1, p)

fig.savefig('out.png', dpi=100)
